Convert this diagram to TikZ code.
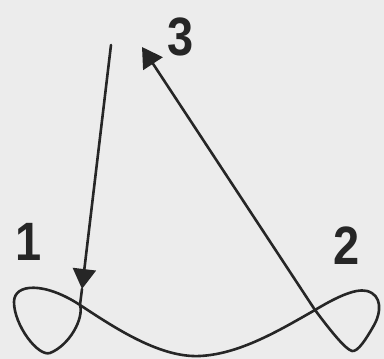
\documentclass[tikz,border=0pt]{standalone}
\usepackage{fontspec}
\setmainfont{Liberation Sans}
\usetikzlibrary{arrows.meta}
\definecolor{bg}{HTML}{ECECEC}
\definecolor{ink}{HTML}{262626}
\tikzset{
  curve/.style={draw=ink, line width=2.6pt, line join=round, line cap=round},
  lbl/.style={text=ink, font=\fontsize{54}{54}\selectfont\bfseries, inner sep=0pt},
  tip/.style={-{Triangle[length=20pt,width=23pt]}}
}
\begin{document}
\begin{tikzpicture}[x=1pt,y=-1pt]
\fill[bg] (0,0) rectangle (384,359);
\useasboundingbox (0,0) rectangle (384,359);
% coordinates
\coordinate (c1) at (80,305);
\coordinate (c2) at (315,310);
\coordinate (top1) at (111,45);
\coordinate (h1) at (82,289);
\coordinate (h3) at (142,47);
% labels
\node[lbl] (n1) at (29,242) {\scalebox{0.87}[1]{1}};
\node[lbl] (n2) at (347,246) {\scalebox{0.87}[1]{2}};
\node[lbl] (n3) at (181,37) {\scalebox{0.87}[1]{3}};
% curve with loops
\draw[curve] (c1) .. controls (84,318) and (70,345) .. (50,353)
  .. controls (38,357) and (14,325) .. (14,302)
  .. controls (14,283) and (45,282) .. (c1)
  .. controls (115,328) and (160,358) .. (200,356)
  .. controls (240,354) and (280,330) .. (c2)
  .. controls (335,298) and (355,288) .. (367,291)
  .. controls (382,295) and (382,312) .. (373,327)
  .. controls (366,339) and (358,352) .. (352,351)
  .. controls (345,349) and (330,330) .. (c2);
% line to 3
\draw[curve, tip] (c2) -- (h3);
% line from top to 1
\draw[curve, tip] (top1) -- (h1);
\draw[curve] (h1) -- (c1);
\end{tikzpicture}
\end{document}
